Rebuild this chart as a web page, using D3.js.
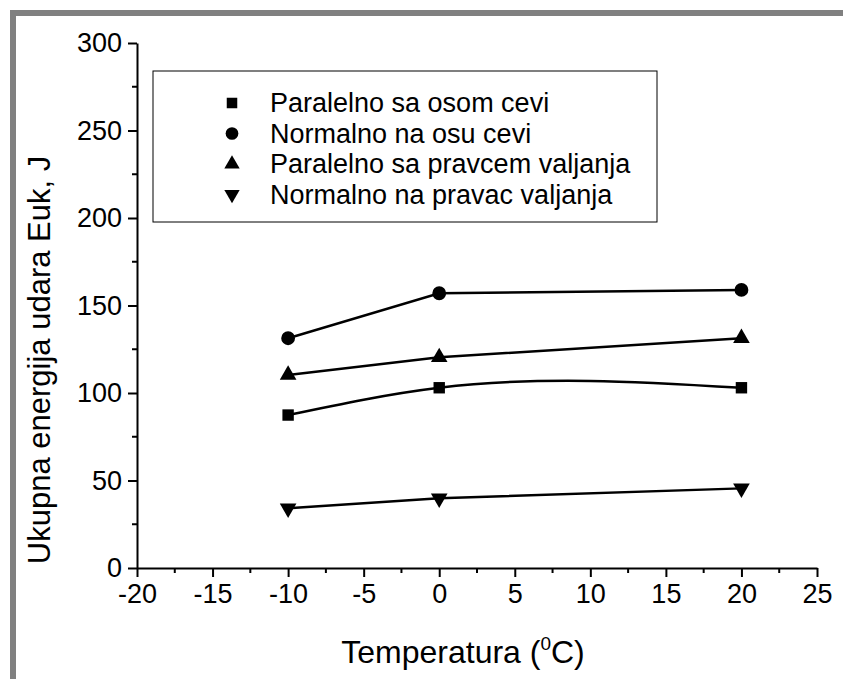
<!DOCTYPE html>
<html>
<head>
<meta charset="utf-8">
<script src="https://cdn.jsdelivr.net/npm/d3@7"></script>
<style>
  body { margin: 0; background: #fff; }
  svg text { font-family: "Liberation Sans", Arial, sans-serif; fill: #000; }
</style>
</head>
<body>
<div id="chart"></div>
<script>
// data
var temps = [-10, 0, 20];
var paralelnoOsa = [87.4, 103, 103];
var normalnoOsa = [131.3, 157, 158.9];
var paralelnoPravac = [110.3, 120.4, 131.3];
var normalnoPravac = [34.1, 39.8, 45.5];
var seriesNames = ["Paralelno sa osom cevi", "Normalno na osu cevi",
                   "Paralelno sa pravcem valjanja", "Normalno na pravac valjanja"];
var xTicks = [-20, -15, -10, -5, 0, 5, 10, 15, 20, 25];
var yTicks = [0, 50, 100, 150, 200, 250, 300];

var W = 843, H = 679;
var svg = d3.select("#chart").append("svg")
  .attr("width", W).attr("height", H);

// grey frame (top and left only)
svg.append("rect").attr("x", 10).attr("y", 10).attr("width", W - 10).attr("height", 6).attr("fill", "#808080");
svg.append("rect").attr("x", 10).attr("y", 10).attr("width", 6).attr("height", H - 10).attr("fill", "#808080");

var x = d3.scaleLinear().domain([-20, 25]).range([137, 817]);
var y = d3.scaleLinear().domain([0, 300]).range([568, 43]);

// natural cubic spline y(x) (like Origin's spline line), drawn as bezier pieces
function curveSplineX(context) {
  var pts;
  return {
    areaStart: function() {}, areaEnd: function() {},
    lineStart: function() { pts = []; },
    point: function(px, py) { pts.push([+px, +py]); },
    lineEnd: function() {
      var n = pts.length;
      if (n < 3) {
        pts.forEach(function(p, i) { i ? context.lineTo(p[0], p[1]) : context.moveTo(p[0], p[1]); });
        return;
      }
      var h = [], M = new Array(n).fill(0);
      for (var i = 0; i < n - 1; i++) h.push(pts[i + 1][0] - pts[i][0]);
      // tridiagonal solve for second derivatives, natural ends
      var a = [], b = [], c = [], r = [];
      for (i = 1; i < n - 1; i++) {
        a.push(h[i - 1]); b.push(2 * (h[i - 1] + h[i])); c.push(h[i]);
        r.push(6 * ((pts[i + 1][1] - pts[i][1]) / h[i] - (pts[i][1] - pts[i - 1][1]) / h[i - 1]));
      }
      var m = b.length;
      for (i = 1; i < m; i++) {
        var w = a[i] / b[i - 1];
        b[i] -= w * c[i - 1]; r[i] -= w * r[i - 1];
      }
      var sol = new Array(m);
      sol[m - 1] = r[m - 1] / b[m - 1];
      for (i = m - 2; i >= 0; i--) sol[i] = (r[i] - c[i] * sol[i + 1]) / b[i];
      for (i = 0; i < m; i++) M[i + 1] = sol[i];
      context.moveTo(pts[0][0], pts[0][1]);
      for (i = 0; i < n - 1; i++) {
        var hi = h[i], dy = (pts[i + 1][1] - pts[i][1]) / hi;
        var d0 = dy - hi * (2 * M[i] + M[i + 1]) / 6;
        var d1 = dy + hi * (M[i] + 2 * M[i + 1]) / 6;
        context.bezierCurveTo(pts[i][0] + hi / 3, pts[i][1] + d0 * hi / 3,
                              pts[i + 1][0] - hi / 3, pts[i + 1][1] - d1 * hi / 3,
                              pts[i + 1][0], pts[i + 1][1]);
      }
    }
  };
}

// minor ticks
svg.append("g").selectAll("line").data(d3.range(-17.5, 25, 5)).enter().append("line")
  .attr("x1", function(d) { return x(d); }).attr("x2", function(d) { return x(d); })
  .attr("y1", y(0)).attr("y2", y(0) + 5)
  .attr("stroke", "#000").attr("stroke-width", 2);
svg.append("g").selectAll("line").data(d3.range(25, 300, 50)).enter().append("line")
  .attr("y1", function(d) { return y(d); }).attr("y2", function(d) { return y(d); })
  .attr("x1", x(-20)).attr("x2", x(-20) - 5)
  .attr("stroke", "#000").attr("stroke-width", 2);

// axes
var xAxis = svg.append("g")
  .attr("transform", "translate(0," + y(0) + ")")
  .call(d3.axisBottom(x).tickValues(xTicks).tickFormat(String).tickSize(9).tickPadding(6).tickSizeOuter(0));
var yAxis = svg.append("g")
  .attr("transform", "translate(" + x(-20) + ",0)")
  .call(d3.axisLeft(y).tickValues(yTicks).tickFormat(String).tickSize(9).tickPadding(6).tickSizeOuter(0));
[xAxis, yAxis].forEach(function(a) {
  a.selectAll("path, line").attr("stroke", "#000").attr("stroke-width", 2);
  a.selectAll("text").style("font-size", "27px").attr("fill", "#000");
});
xAxis.selectAll("text").attr("dy", "0.75em");

// axis titles
var xt = svg.append("text").attr("x", 463).attr("y", 663)
  .attr("text-anchor", "middle").style("font-size", "32px");
xt.append("tspan").text("Temperatura (");
xt.append("tspan").attr("dy", -13).style("font-size", "19px").text("0");
xt.append("tspan").attr("dy", 13).text("C)");

svg.append("text")
  .attr("transform", "translate(50,360) rotate(-90)")
  .attr("text-anchor", "middle").style("font-size", "31px")
  .text("Ukupna energija udara Euk, J");

// series
var series = [
  { name: seriesNames[0], values: paralelnoOsa, symbol: d3.symbolSquare, size: 130, curve: curveSplineX, rot: 0 },
  { name: seriesNames[1], values: normalnoOsa, symbol: d3.symbolCircle, size: 150, curve: d3.curveLinear, rot: 0 },
  { name: seriesNames[2], values: paralelnoPravac, symbol: d3.symbolTriangle, size: 120, curve: d3.curveLinear, rot: 0 },
  { name: seriesNames[3], values: normalnoPravac, symbol: d3.symbolTriangle, size: 120, curve: d3.curveLinear, rot: 180 }
];

series.forEach(function(s) {
  var pts = temps.map(function(t, i) { return [x(t), y(s.values[i])]; });
  svg.append("path")
    .attr("d", d3.line().curve(s.curve)(pts))
    .attr("fill", "none").attr("stroke", "#000").attr("stroke-width", 2.5);
  svg.append("g").selectAll("path").data(pts).enter().append("path")
    .attr("d", d3.symbol().type(s.symbol).size(s.size))
    .attr("transform", function(p) { return "translate(" + p[0] + "," + p[1] + ") rotate(" + s.rot + ")"; })
    .attr("fill", "#000");
});

// legend
svg.append("rect").attr("x", 153).attr("y", 71).attr("width", 504).attr("height", 151)
  .attr("fill", "none").attr("stroke", "#000").attr("stroke-width", 1);
series.forEach(function(s, i) {
  var ly = 103 + i * 30.5;
  svg.append("path")
    .attr("d", d3.symbol().type(s.symbol).size(s.size * 0.85))
    .attr("transform", "translate(232," + ly + ") rotate(" + s.rot + ")")
    .attr("fill", "#000");
  svg.append("text").attr("x", 270).attr("y", ly).attr("dy", "0.35em")
    .style("font-size", "27px").text(s.name);
});
</script>
</body>
</html>
